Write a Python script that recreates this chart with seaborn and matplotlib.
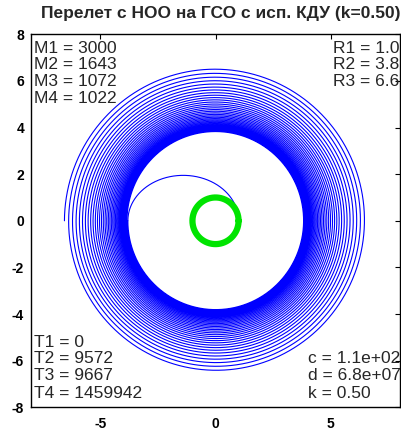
import numpy as np
import pandas as pd
import matplotlib
matplotlib.use("Agg")
import matplotlib.pyplot as plt
import seaborn as sns

# ---- chart content -------------------------------------------------------
TITLE = "Перелет с НОО на ГСО с исп. КДУ (k=0.50)"
R1 = 1.0          # LEO radius (Earth radii)
R2 = 3.8          # apogee of transfer ellipse / start of low-thrust spiral
R3 = 6.6          # GEO radius label
R_END = 6.55      # outermost radius reached by the drawn spiral
N_TURNS = 34      # number of spiral revolutions
M_vals = [3000, 1643, 1072, 1022]
T_vals = [0, 9572, 9667, 1459942]
R_labels = ["1.0", "3.8", "6.6"]
c_label, d_label, k_label = "1.1e+02", "6.8e+07", "0.50"
XTICKS = [-5, 0, 5]
YTICKS = [-8, -6, -4, -2, 0, 2, 4, 6, 8]
LIM = (-8, 8)

# ---- trajectory (from the radii above) -----------------------------------
# Hohmann-type transfer ellipse R1 -> R2
th_tr = np.linspace(0, np.pi, 400)
e = (R2 - R1) / (R2 + R1)
p = R1 * (1 + e)
r_tr = p / (1 + e * np.cos(th_tr))
transfer = pd.DataFrame({"x": r_tr * np.cos(th_tr), "y": r_tr * np.sin(th_tr), "seg": 0})

# low-thrust spiral R2 -> R_END (1/sqrt(r) decreasing linearly in time)
u = np.linspace(1 / np.sqrt(R2), 1 / np.sqrt(R_END), 80000)
u0, u1 = u[0], u[-1]
th_sp = np.pi + (u0**4 - u**4) / (u0**4 - u1**4) * 2 * np.pi * N_TURNS
r_sp = 1 / u**2
spiral = pd.DataFrame({"x": r_sp * np.cos(th_sp), "y": r_sp * np.sin(th_sp), "seg": 1})
traj = pd.concat([transfer, spiral], ignore_index=True)

th_e = np.linspace(0, 2 * np.pi, 200)
earth = pd.DataFrame({"x": R1 * np.cos(th_e), "y": R1 * np.sin(th_e)})

# ---- figure ---------------------------------------------------------------
sns.set_style("white")
plt.rcParams["font.family"] = ["Liberation Sans", "DejaVu Sans"]

fig = plt.figure(figsize=(4.02, 4.32), dpi=100)
ax = fig.add_axes([0.0771, 0.0572, 0.918, 0.8634])

sns.lineplot(data=traj, x="x", y="y", units="seg", estimator=None, sort=False,
             color="#0000ff", lw=0.8, ax=ax, legend=False)
sns.lineplot(data=earth, x="x", y="y", estimator=None, sort=False,
             color="#00e400", lw=4.5, ax=ax, legend=False)

ax.set_xlim(*LIM)
ax.set_ylim(*LIM)
ax.set_xticks(XTICKS)
ax.set_yticks(YTICKS)
ax.set_xticklabels([str(v) for v in XTICKS])
ax.set_yticklabels([str(v) for v in YTICKS])
ax.set_xlabel("")
ax.set_ylabel("")
ax.tick_params(direction="in", top=True, right=True, length=3.5, width=0.8,
               labelsize=10, pad=5, colors="black")
ax.tick_params(axis="x", pad=7)
for lab in ax.get_xticklabels() + ax.get_yticklabels():
    lab.set_fontweight("bold")
for s in ax.spines.values():
    s.set_color("black")
    s.set_linewidth(1.0)

fig.text(0.55, 0.968, TITLE, ha="center", va="center", fontsize=12.5,
         fontweight="bold")

fs = 12.5
rows_top = [0.9625, 0.9177, 0.8735, 0.8279]
for i, m in enumerate(M_vals):
    ax.text(0.007, rows_top[i], f"M{i+1} = {m}", transform=ax.transAxes,
            ha="left", va="center", fontsize=fs)
for i, r in enumerate(R_labels):
    ax.text(0.818, rows_top[i], f"R{i+1} = {r}", transform=ax.transAxes,
            ha="left", va="center", fontsize=fs)
rows_bot = [0.1737, 0.1295, 0.0839, 0.0383]
for i, t in enumerate(T_vals):
    ax.text(0.007, rows_bot[i], f"T{i+1} = {t}", transform=ax.transAxes,
            ha="left", va="center", fontsize=fs)
for i, s in enumerate([f"c = {c_label}", f"d = {d_label}", f"k = {k_label}"]):
    ax.text(0.751, rows_bot[i + 1], s, transform=ax.transAxes,
            ha="left", va="center", fontsize=fs)

fig.savefig("out.png", dpi=100)
